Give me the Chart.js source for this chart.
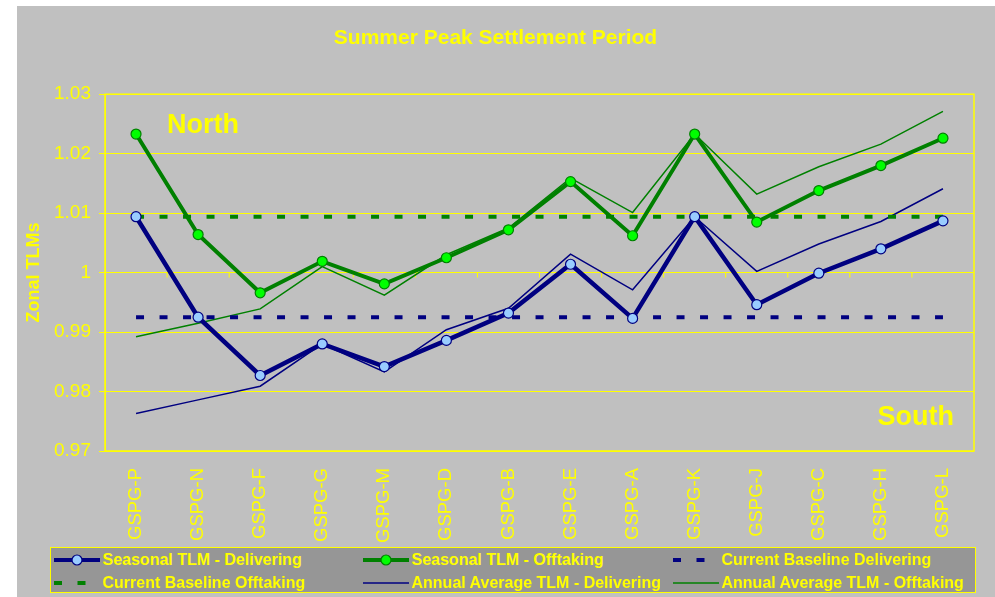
<!DOCTYPE html>
<html>
<head>
<meta charset="utf-8">
<script src="https://cdn.jsdelivr.net/npm/chart.js@4.4.0/dist/chart.umd.min.js"></script>
<style>
  html, body { margin: 0; padding: 0; background: #fff; }
  #panel { position: absolute; left: 17px; top: 6px; width: 978px; height: 591px; background: #c0c0c0; }
  #chart { position: absolute; left: 0; top: 0; }
  #legend {
    position: absolute; left: 33px; top: 541px; width: 924px; height: 44px;
    background: #969696; border: 1.5px solid #ffff00;
    display: grid; grid-template-columns: 309px 310px 305px; grid-auto-rows: 23px;
    font: bold 16px "Liberation Sans", Arial, sans-serif; color: #ffff00;
  }
  .item { display: flex; align-items: center; padding-left: 2.5px; white-space: nowrap; }
  .item svg { margin-right: 3px; flex: none; }
</style>
</head>
<body>
<div id="panel">
  <canvas id="chart" width="978" height="591"></canvas>
  <div id="legend"></div>
</div>
<script>
// ---- data ----
const categories = ['GSPG-P', 'GSPG-N', 'GSPG-F', 'GSPG-G', 'GSPG-M', 'GSPG-D', 'GSPG-B',
                    'GSPG-E', 'GSPG-A', 'GSPG-K', 'GSPG-J', 'GSPG-C', 'GSPG-H', 'GSPG-L'];

const seasonalDelivering = [1.0094, 0.9925, 0.9827, 0.9880, 0.9842, 0.9886, 0.9932,
                            1.0014, 0.9923, 1.0094, 0.9946, 0.9999, 1.0040, 1.0087];
const seasonalOfftaking  = [1.0233, 1.0064, 0.9966, 1.0019, 0.9981, 1.0025, 1.0072,
                            1.0153, 1.0062, 1.0233, 1.0085, 1.0138, 1.0180, 1.0226];
const baselineDelivering = [0.9925, 0.9925, 0.9925, 0.9925, 0.9925, 0.9925, 0.9925,
                            0.9925, 0.9925, 0.9925, 0.9925, 0.9925, 0.9925, 0.9925];
const baselineOfftaking  = [1.0094, 1.0094, 1.0094, 1.0094, 1.0094, 1.0094, 1.0094,
                            1.0094, 1.0094, 1.0094, 1.0094, 1.0094, 1.0094, 1.0094];
const annualDelivering   = [0.9763, 0.9786, 0.9809, 0.9880, 0.9833, 0.9904, 0.9940,
                            1.0031, 0.9971, 1.0094, 1.0002, 1.0048, 1.0086, 1.0141];
const annualOfftaking    = [0.9892, 0.9915, 0.9939, 1.0010, 0.9962, 1.0030, 1.0075,
                            1.0159, 1.0101, 1.0233, 1.0132, 1.0178, 1.0216, 1.0271];

const yellow = '#ffff00';
const navy = '#000080';
const green = '#008000';

Chart.defaults.font.family = '"Liberation Sans", Arial, sans-serif';

/*_____________________FRAME + NORTH/SOUTH____________________*/

const frame = {
  id: 'frame',
  beforeDatasetsDraw(chart) {
    const {ctx, chartArea: a, scales: {x, y}} = chart;
    ctx.save();
    ctx.strokeStyle = yellow;
    ctx.lineWidth = 1.5;
    ctx.strokeRect(a.left, a.top, a.right - a.left, a.bottom - a.top);
    // category tick marks where the x axis crosses at 1
    const y1 = y.getPixelForValue(1);
    ctx.lineWidth = 1;
    ctx.beginPath();
    for (let i = 1; i < categories.length; i++) {
      const xp = (x.getPixelForTick(i - 1) + x.getPixelForTick(i)) / 2;
      ctx.moveTo(xp, y1);
      ctx.lineTo(xp, y1 + 5);
    }
    ctx.stroke();
    ctx.restore();
  },
  afterDraw(chart) {
    const {ctx, chartArea: a} = chart;
    ctx.save();
    ctx.fillStyle = yellow;
    ctx.font = 'bold 27px "Liberation Sans", Arial, sans-serif';
    ctx.textAlign = 'left';
    ctx.fillText('North', a.left + 62, a.top + 39);
    ctx.textAlign = 'right';
    ctx.fillText('South', a.right - 20, a.bottom - 26);
    ctx.restore();
  }
};

const chart = new Chart(document.getElementById('chart'), {
  type: 'line',
  data: {
    labels: categories,
    datasets: [
      {
        label: 'Seasonal TLM - Delivering',
        data: seasonalDelivering,
        borderColor: navy,
        borderWidth: 4.5,
        pointRadius: 5,
        pointBackgroundColor: '#99ccff',
        pointBorderColor: navy,
        pointBorderWidth: 1.2
      },
      {
        label: 'Seasonal TLM - Offtaking',
        data: seasonalOfftaking,
        borderColor: green,
        borderWidth: 4,
        pointRadius: 5,
        pointBackgroundColor: '#00ff00',
        pointBorderColor: green,
        pointBorderWidth: 1.2
      },
      {
        label: 'Current Baseline Delivering',
        data: baselineDelivering,
        borderColor: navy,
        borderWidth: 4,
        borderDash: [8, 15.5],
        borderCapStyle: 'butt',
        pointRadius: 0
      },
      {
        label: 'Current Baseline Offtaking',
        data: baselineOfftaking,
        borderColor: green,
        borderWidth: 4,
        borderDash: [8, 15.5],
        borderCapStyle: 'butt',
        pointRadius: 0
      },
      {
        label: 'Annual Average TLM - Delivering',
        data: annualDelivering,
        borderColor: navy,
        borderWidth: 1.5,
        pointRadius: 0
      },
      {
        label: 'Annual Average TLM - Offtaking',
        data: annualOfftaking,
        borderColor: green,
        borderWidth: 1.5,
        pointRadius: 0
      }
    ]
  },
  options: {
    responsive: false,
    animation: false,
    layout: { padding: { left: 0, right: 21, top: 0, bottom: 0 } },
    plugins: {
      legend: { display: false },
      tooltip: { enabled: false },
      title: {
        display: true,
        text: 'Summer Peak Settlement Period',
        color: yellow,
        font: { size: 21, weight: 'bold' },
        padding: { top: 20, bottom: 43 }
      }
    },
    scales: {
      x: {
        offset: true,
        grid: { display: false },
        border: { display: false },
        ticks: {
          color: yellow,
          font: { size: 18.5 },
          minRotation: 90,
          maxRotation: 90,
          autoSkip: false,
          padding: 9
        },
        afterFit(s) { s.height = 146; }
      },
      y: {
        min: 0.97,
        max: 1.03,
        ticks: {
          stepSize: 0.01,
          color: yellow,
          font: { size: 19 },
          padding: 8,
          callback: v => String(+v.toFixed(2))
        },
        grid: { color: yellow, tickLength: 6, lineWidth: 1 },
        border: { color: yellow },
        title: {
          display: true,
          text: 'Zonal TLMs',
          color: yellow,
          font: { size: 18, weight: 'bold' },
          padding: { top: 6, bottom: 0 }
        },
        afterFit(s) { s.width = 88; }
      }
    }
  },
  plugins: [frame]
});

/*_____________________HTML LEGEND____________________*/

const legendEl = document.getElementById('legend');
chart.data.datasets.forEach(ds => {
  const item = document.createElement('div');
  item.className = 'item';
  const dash = ds.borderDash ? ds.borderDash.join(' ') : 'none';
  let svg = '<svg width="46" height="16">' +
    '<line x1="0" y1="8" x2="46" y2="8" stroke="' + ds.borderColor + '" stroke-width="' +
    Math.min(ds.borderWidth, 4) + '" stroke-dasharray="' + dash + '"/>';
  if (ds.pointRadius > 0) {
    svg += '<circle cx="23" cy="8" r="' + ds.pointRadius + '" fill="' + ds.pointBackgroundColor +
      '" stroke="' + ds.pointBorderColor + '" stroke-width="1.2"/>';
  }
  svg += '</svg>';
  item.innerHTML = svg + '<span>' + ds.label + '</span>';
  legendEl.appendChild(item);
});
</script>
</body>
</html>
